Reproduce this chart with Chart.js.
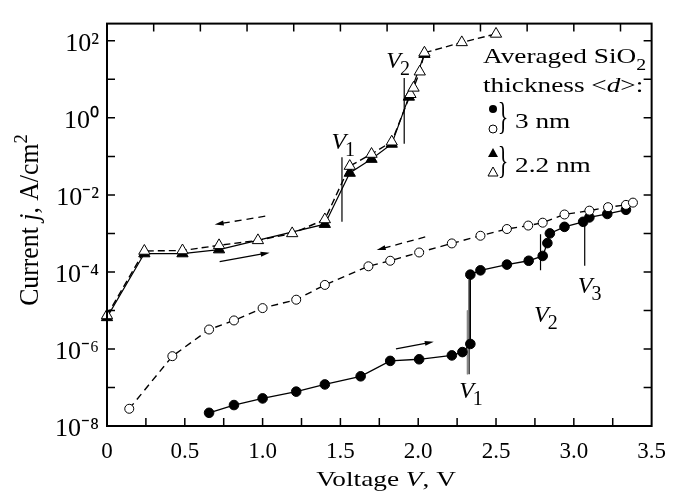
<!DOCTYPE html>
<html>
<head>
<meta charset="utf-8">
<script src="https://cdn.jsdelivr.net/npm/chart.js@4.4.1/dist/chart.umd.min.js"></script>
<style>
  html, body { margin: 0; padding: 0; background: #fff; }
</style>
</head>
<body>
<canvas id="ivChart" width="678" height="492"></canvas>
<script>
// 2.2 nm, forward sweep (filled triangles)
const v22Fwd = [0, 0.24, 0.485, 0.72, 1.40, 1.56, 1.70, 1.83, 1.94, 2.04];
const j22Fwd = [6.6e-6, 3.0e-4, 3.0e-4, 3.8e-4, 1.74e-3, 3.7e-2, 8.5e-2, 0.21, 3.5, 45];
// 2.2 nm, reverse sweep (open triangles)
const v22Rev = [0, 0.24, 0.485, 0.72, 0.97, 1.19, 1.40, 1.56, 1.70, 1.83, 1.95, 1.97, 2.01, 2.04, 2.28, 2.50];
const j22Rev = [7.4e-6, 3.5e-4, 3.6e-4, 4.9e-4, 6.6e-4, 1.0e-3, 2.3e-3, 5.6e-2, 0.115, 0.24, 4.1, 6.0, 15.8, 49, 91, 151];
// 3 nm, forward sweep (filled circles)
const v3Fwd = [0.656, 0.816, 1.0, 1.216, 1.40, 1.63, 1.82, 2.006, 2.216, 2.284, 2.335, 2.335, 2.40, 2.57, 2.71, 2.80, 2.83, 2.846, 2.94, 3.06, 3.10, 3.215, 3.335];
const j3Fwd = [2.2e-8, 3.5e-8, 5.2e-8, 7.8e-8, 1.2e-7, 1.95e-7, 4.9e-7, 5.4e-7, 6.8e-7, 8.3e-7, 1.35e-6, 8.5e-5, 1.1e-4, 1.55e-4, 1.95e-4, 2.6e-4, 5.6e-4, 1.0e-3, 1.48e-3, 2.0e-3, 2.6e-3, 3.2e-3, 4.1e-3];
// 3 nm, reverse sweep (open circles)
const v3Rev = [0.143, 0.42, 0.656, 0.816, 1.0, 1.216, 1.40, 1.68, 1.82, 2.006, 2.216, 2.40, 2.57, 2.707, 2.80, 2.94, 3.10, 3.22, 3.335, 3.38];
const j3Rev = [2.8e-8, 6.5e-7, 3.2e-6, 5.5e-6, 1.15e-5, 1.9e-5, 4.6e-5, 1.4e-4, 1.95e-4, 3.2e-4, 5.5e-4, 8.7e-4, 1.3e-3, 1.6e-3, 1.9e-3, 3.1e-3, 3.9e-3, 4.8e-3, 5.5e-3, 6.3e-3];

// threshold markers V1, V2, V3
const markV   = [1.51, 1.91, 2.327, 2.786, 3.07];
const markTop = [0.095, 10.8, 6.2e-5, 9.5e-4, 2.0e-3];
const markBot = [2.0e-3, 0.214, 2.2e-7, 1.1e-4, 1.45e-4];
const markLabV = [1.442, 1.795, 2.263, 2.744, 3.026];
const markLabJ = [0.153, 19.7, 5.4e-8, 4.95e-6, 2.8e-5];
const markSub  = ['1', '2', '1', '2', '3'];

// sweep direction arrows
const arrX0 = [1.017, 0.724, 2.045, 1.857];
const arrJ0 = [2.8e-3, 1.86e-4, 8.1e-4, 1.0e-6];
const arrX1 = [0.692, 1.045, 1.733, 2.10];
const arrJ1 = [1.7e-3, 3.16e-4, 3.7e-4, 1.55e-6];
const arrDashed = [true, false, true, false];

// axes
const xMin = 0, xMax = 3.5;
const yMin = 1e-8, yMax = 280;
const yTickExp = [-8, -7, -6, -5, -4, -3, -2, -1, 0, 1, 2];
const topTickStep = 0.3;

const SERIF = '"Liberation Serif", "Times New Roman", serif';
const SUP = { '0': '\u2070', '1': '\u00b9', '2': '\u00b2', '4': '\u2074', '6': '\u2076', '8': '\u2078', '-': '\u207b' };
const HS = 1.24; // the printed lettering is wider than plain Times

function pts(xs, ys) {
  return xs.map((x, i) => ({ x: x, y: ys[i] }));
}

const datasets = [
  {
    data: pts(v22Rev, j22Rev), order: 0,
    borderColor: '#000', borderWidth: 1.4, borderDash: [7, 4],
    pointStyle: 'triangle', pointRadius: 6.5, pointBorderWidth: 1,
    pointBackgroundColor: '#fff', pointBorderColor: '#000'
  },
  {
    data: pts(v22Fwd, j22Fwd), order: 1,
    borderColor: '#000', borderWidth: 1.2,
    pointStyle: 'triangle', pointRadius: 6.5, pointBorderWidth: 1,
    pointBackgroundColor: '#000', pointBorderColor: '#000'
  },
  {
    data: pts(v3Rev, j3Rev), order: 2,
    borderColor: '#000', borderWidth: 1.4, borderDash: [7, 5],
    pointStyle: 'circle', pointRadius: 4.5, pointBorderWidth: 1,
    pointBackgroundColor: '#fff', pointBorderColor: '#000'
  },
  {
    data: pts(v3Fwd, j3Fwd), order: 3,
    borderColor: '#000', borderWidth: 1.3,
    pointStyle: 'circle', pointRadius: 4.8, pointBorderWidth: 1,
    pointBackgroundColor: '#000', pointBorderColor: '#000'
  }
];

markV.forEach((v, i) => {
  datasets.push({
    data: [{ x: v, y: markTop[i] }, { x: v, y: markBot[i] }], order: 5,
    borderColor: '#000', borderWidth: 1.2, pointRadius: 0
  });
});
// faint second line next to V1 of the 3 nm curve
datasets.push({
  data: [{ x: 2.316, y: 1.0e-5 }, { x: 2.316, y: 2.2e-7 }], order: 6,
  borderColor: '#888', borderWidth: 1, pointRadius: 0
});
datasets.forEach(d => { d.clip = false; d.tension = 0; d.fill = false; });

function partFont(st, size) {
  const small = st === 'sup' || st === 'sub';
  const fs = small ? Math.round(size * 0.72) : size;
  return (st === 'i' ? 'italic ' : '') + fs + 'px ' + SERIF;
}

function richWidth(ctx, parts, size) {
  let w = 0;
  parts.forEach(([t, st]) => { ctx.font = partFont(st, size); w += ctx.measureText(t).width; });
  return w;
}

// text pieces: [text, style] with style n | i | sup | sub
function drawRich(ctx, parts, x, y, size, hs) {
  ctx.save();
  ctx.translate(x, y);
  ctx.scale(hs || 1, 1);
  let cx = 0;
  parts.forEach(([t, st]) => {
    let dy = 0;
    if (st === 'sup') dy = -size * 0.42;
    if (st === 'sub') dy = size * 0.3;
    ctx.font = partFont(st, size);
    ctx.fillText(t, cx, dy);
    cx += ctx.measureText(t).width;
  });
  ctx.restore();
}

const decorPlugin = {
  id: 'decor',
  afterDatasetsDraw(chart) {
    const ctx = chart.ctx;
    const xs = chart.scales.x, ys = chart.scales.y;
    const a = chart.chartArea;
    ctx.save();
    ctx.fillStyle = '#000';
    ctx.strokeStyle = '#000';
    ctx.textAlign = 'left';
    ctx.textBaseline = 'alphabetic';

    // inward ticks
    ctx.lineWidth = 1.5;
    ctx.beginPath();
    yTickExp.forEach(e => {
      const y = ys.getPixelForValue(Math.pow(10, e));
      ctx.moveTo(a.left, y); ctx.lineTo(a.left + 8, y);
      ctx.moveTo(a.right, y); ctx.lineTo(a.right - 8, y);
    });
    for (let v = 0.25; v < xMax; v += 0.25) {
      const x = xs.getPixelForValue(v);
      ctx.moveTo(x, a.bottom); ctx.lineTo(x, a.bottom - 8);
    }
    for (let v = topTickStep; v < xMax; v += topTickStep) {
      const x = xs.getPixelForValue(v);
      ctx.moveTo(x, a.top); ctx.lineTo(x, a.top + 8);
    }
    ctx.stroke();

    // frame
    ctx.lineWidth = 2;
    ctx.strokeRect(a.left, a.top, a.right - a.left, a.bottom - a.top);

    // arrows
    arrX0.forEach((x0, i) => {
      const px0 = xs.getPixelForValue(x0), py0 = ys.getPixelForValue(arrJ0[i]);
      const px1 = xs.getPixelForValue(arrX1[i]), py1 = ys.getPixelForValue(arrJ1[i]);
      const ang = Math.atan2(py1 - py0, px1 - px0);
      ctx.lineWidth = 1.3;
      ctx.setLineDash(arrDashed[i] ? [7, 5] : []);
      ctx.beginPath();
      ctx.moveTo(px0, py0);
      ctx.lineTo(px1 - 6 * Math.cos(ang), py1 - 6 * Math.sin(ang));
      ctx.stroke();
      ctx.setLineDash([]);
      ctx.beginPath();
      ctx.moveTo(px1, py1);
      ctx.lineTo(px1 - 9 * Math.cos(ang) + 2.5 * Math.sin(ang), py1 - 9 * Math.sin(ang) - 2.5 * Math.cos(ang));
      ctx.lineTo(px1 - 9 * Math.cos(ang) - 2.5 * Math.sin(ang), py1 - 9 * Math.sin(ang) + 2.5 * Math.cos(ang));
      ctx.closePath();
      ctx.fill();
    });

    // V labels
    markLabV.forEach((v, i) => {
      const x = xs.getPixelForValue(v), y = ys.getPixelForValue(markLabJ[i]);
      ctx.font = 'italic 24px ' + SERIF;
      ctx.fillText('V', x, y);
      const w = ctx.measureText('V').width;
      ctx.font = '20px ' + SERIF;
      ctx.fillText(markSub[i], x + w - 1, y + 7);
    });

    // legend block
    drawRich(ctx, [['Averaged SiO', 'n'], ['2', 'sub']], 483, 63, 22, HS);
    drawRich(ctx, [['thickness <', 'n'], ['d', 'i'], ['>:', 'n']], 483, 92, 22, HS);
    ctx.lineWidth = 1;
    ctx.beginPath(); ctx.arc(493, 109, 4, 0, Math.PI * 2); ctx.fill();
    ctx.beginPath(); ctx.arc(493, 129, 4, 0, Math.PI * 2); ctx.stroke();
    ctx.beginPath(); ctx.moveTo(493, 148); ctx.lineTo(498, 157); ctx.lineTo(488, 157); ctx.closePath(); ctx.fill();
    ctx.beginPath(); ctx.moveTo(493, 167); ctx.lineTo(498, 176); ctx.lineTo(488, 176); ctx.closePath(); ctx.stroke();
    [[119, '3 nm'], [163, '2.2 nm']].forEach(([cy, txt]) => {
      ctx.save();
      ctx.translate(503, cy);
      ctx.scale(1, 1.75);
      ctx.font = '22px ' + SERIF;
      ctx.textAlign = 'center';
      ctx.textBaseline = 'middle';
      ctx.fillText('}', 0, 0);
      ctx.restore();
      drawRich(ctx, [[txt, 'n']], 515, cy + 9, 22, HS);
    });

    // axis titles
    const xt = [['Voltage ', 'n'], ['V', 'i'], [', V', 'n']];
    const xw = richWidth(ctx, xt, 22) * HS;
    drawRich(ctx, xt, 386 - xw / 2, 486, 22, HS);

    const yt = [['Current ', 'n'], ['j', 'i'], [', A/cm', 'n'], ['2', 'sup']];
    const yw = richWidth(ctx, yt, 22) * 1.17;
    ctx.save();
    ctx.translate(38, 220);
    ctx.rotate(-Math.PI / 2);
    ctx.scale(1, 1.2);
    drawRich(ctx, yt, -yw / 2, 0, 22, 1.17);
    ctx.restore();

    ctx.restore();
  }
};

new Chart(document.getElementById('ivChart'), {
  type: 'line',
  data: { datasets: datasets },
  options: {
    responsive: false,
    animation: false,
    events: [],
    layout: { padding: { top: 12, right: 25, left: 0, bottom: 0 } },
    plugins: { legend: { display: false }, tooltip: { enabled: false } },
    scales: {
      x: {
        type: 'linear', min: xMin, max: xMax,
        grid: { display: false, drawTicks: false },
        border: { display: false },
        afterFit: s => { s.height = 66; },
        ticks: {
          stepSize: 0.25, autoSkip: false, maxRotation: 0, padding: 12,
          color: '#000', font: { family: SERIF, size: 23 },
          callback: v => {
            if (Math.abs(v * 2 - Math.round(v * 2)) > 1e-6) return '';
            return v === 0 ? '0' : v.toFixed(1);
          }
        }
      },
      y: {
        type: 'logarithmic', min: yMin, max: yMax,
        grid: { display: false, drawTicks: false },
        border: { display: false },
        afterFit: s => { s.width = 107; },
        afterBuildTicks: s => { s.ticks = yTickExp.map(e => ({ value: Math.pow(10, e) })); },
        ticks: {
          autoSkip: false, padding: 8, labelOffset: 3,
          color: '#000', font: { family: SERIF, size: 26 },
          callback: v => {
            const e = Math.round(Math.log10(v));
            if (e % 2 !== 0) return '';
            return '10' + String(e).split('').map(c => SUP[c]).join('');
          }
        }
      }
    }
  },
  plugins: [decorPlugin]
});
</script>
</body>
</html>
